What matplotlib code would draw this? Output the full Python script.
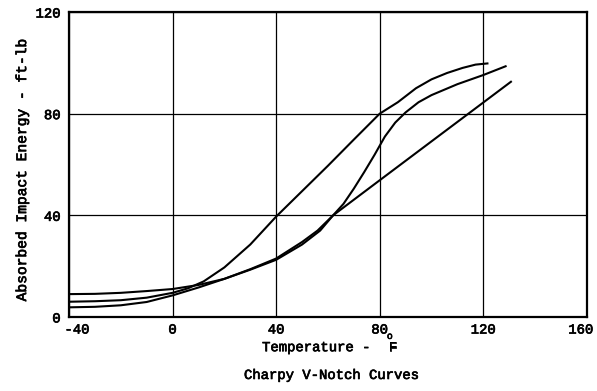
import numpy as np
import matplotlib
matplotlib.use("Agg")
import matplotlib.pyplot as plt
import matplotlib.patheffects as pe
from matplotlib.transforms import ScaledTranslation

plt.rcParams['font.family'] = ['Liberation Mono', 'DejaVu Sans Mono']
plt.rcParams['axes.unicode_minus'] = False

# Charpy V-notch impact energy (ft-lb) vs temperature (F), three heats
temp_a = [-40, -30, -20, -10, 0, 6, 12, 20, 30, 40, 50, 60, 70, 80, 87, 94, 100, 106, 112, 117, 122]
energy_a = [6.0, 6.2, 6.6, 7.6, 9.5, 11.3, 14.0, 19.5, 28.5, 39.5, 49.5, 59.5, 69.8, 80.0, 84.5, 90.0, 93.5, 96.0, 98.0, 99.3, 99.8]

temp_b = [-40, -30, -20, -10, 0, 10, 20, 30, 40, 50, 57, 62, 66, 70, 74, 78, 82, 86, 90, 95, 100, 110, 120, 129]
energy_b = [3.8, 4.0, 4.6, 5.9, 8.5, 11.6, 15.0, 18.6, 22.5, 28.5, 34.0, 40.0, 44.5, 50.5, 57.0, 63.8, 71.0, 76.5, 80.5, 84.5, 87.3, 91.6, 95.2, 98.8]

temp_c = [-40, -30, -20, -10, 0, 10, 20, 30, 40, 50, 56, 62, 80, 100, 114, 131]
energy_c = [9.0, 9.1, 9.5, 10.2, 11.0, 12.6, 15.0, 18.8, 23.0, 29.5, 34.0, 40.0, 53.8, 69.1, 79.8, 92.8]

xticks = [-40, 0, 40, 80, 120, 160]
yticks = [0, 40, 80, 120]

# slightly heavier strokes for the typed lettering
ink = [pe.withStroke(linewidth=0.5, foreground='black')]

fig = plt.figure(figsize=(5.97, 3.91), dpi=100)
ax = fig.add_axes([0.1156, 0.1893, 0.8674, 0.78])

for x in xticks:
    ax.axvline(x, color='black', lw=0.9)
for y in yticks:
    ax.axhline(y, color='black', lw=0.9)

for t, e in [(temp_a, energy_a), (temp_b, energy_b), (temp_c, energy_c)]:
    ax.plot(t, e, color='black', lw=1.5, solid_capstyle='butt')

ax.set_xlim(-40, 160)
ax.set_ylim(0, 120)
ax.set_xticks(xticks)
ax.set_yticks(yticks)
ax.tick_params(length=0, labelsize=10)
ax.tick_params(axis='x', pad=4)
ax.tick_params(axis='y', pad=6)
for s in ax.spines.values():
    s.set_linewidth(1.6)

xlabels = ax.get_xticklabels()
xlabels[0].set_transform(xlabels[0].get_transform() + ScaledTranslation(8 / 100, 0, fig.dpi_scale_trans))
xlabels[-1].set_transform(xlabels[-1].get_transform() + ScaledTranslation(-6 / 100, 0, fig.dpi_scale_trans))
for lab in ax.get_xticklabels() + ax.get_yticklabels():
    lab.set_path_effects(ink)

fig.text(0.037, 0.565, 'Absorbed Impact Energy - ft-lb', fontsize=10.5, rotation=90,
         ha='center', va='center', path_effects=ink)
fig.text(0.439, 0.112, 'Temperature -', fontsize=10, ha='left', va='center', path_effects=ink)
fig.text(0.658, 0.112, 'F', fontsize=10, ha='center', va='center', path_effects=ink)
fig.text(0.653, 0.141, 'o', fontsize=7, ha='center', va='center', path_effects=ink)
fig.text(0.556, 0.041, 'Charpy V-Notch Curves', fontsize=10, ha='center', va='center', path_effects=ink)

fig.savefig('out.png', dpi=100)
